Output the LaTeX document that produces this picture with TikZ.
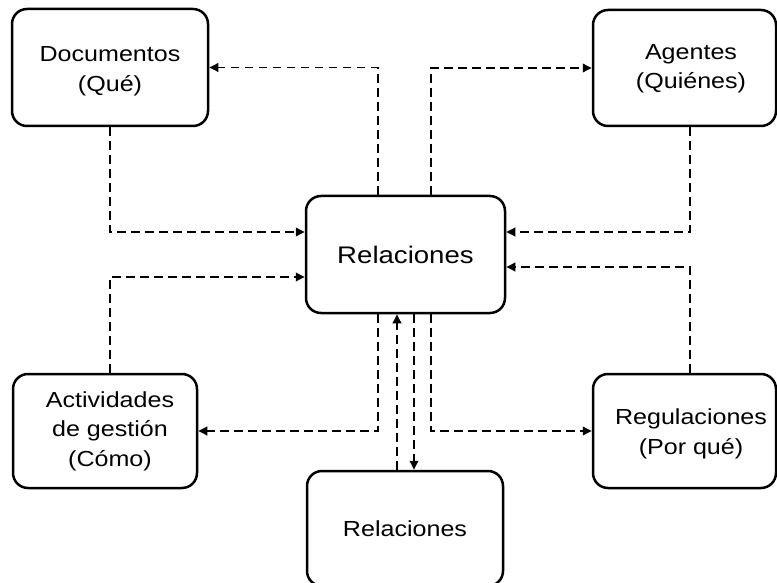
\documentclass[tikz,border=0pt]{standalone}
\usepackage{fontspec}
\setmainfont{Liberation Sans}[FakeStretch=1.15]
\usetikzlibrary{arrows.meta}
\begin{document}
\begin{tikzpicture}[x=1pt,y=-1pt,
  box/.style={draw=black, line width=2.5pt, rounded corners=15pt, inner sep=0pt, fill=white},
  lbl/.style={align=center, font=\fontsize{21.8}{29.5}\selectfont},
  conn/.style={line width=1.8pt, dash pattern=on 8.5pt off 5.5pt, -{Triangle[length=9pt,width=8.5pt]}}]
\useasboundingbox (0,0) rectangle (777,583);
\fill[white] (0,0) rectangle (777,583);
% boxes
\node[box, minimum width=196pt, minimum height=117pt, label={[lbl, yshift=-4pt]center:{Documentos\\(Qué)}}] (doc) at (110,67.5) {};
\node[box, minimum width=183pt, minimum height=116pt, label={[lbl, xshift=6.5pt, yshift=-1pt]center:{Agentes\\(Quiénes)}}] (age) at (684.5,68) {};
\node[box, minimum width=184pt, minimum height=114pt, label={[lbl, xshift=5pt]center:{Actividades\\de gestión\\(Cómo)}}] (act) at (105,431) {};
\node[box, minimum width=183pt, minimum height=114pt, label={[lbl, xshift=6.5pt, yshift=-3pt]center:{Regulaciones\\(Por qué)}}] (reg) at (684.5,431) {};
\node[box, minimum width=199pt, minimum height=117pt, font=\fontsize{24}{28}\selectfont] (rel) at (405.5,254.5) {Relaciones};
\node[box, minimum width=196pt, minimum height=115pt, font=\fontsize{21.8}{28}\selectfont] (bot) at (405,528.5) {Relaciones};
% helper x positions
\coordinate (xL) at (110,0);
\coordinate (xR) at (690,0);
\coordinate (xa) at (378,0);
\coordinate (xb) at (397,0);
\coordinate (xc) at (414,0);
\coordinate (xd) at (431,0);
% connectors
\draw[conn] (rel.north -| xa) |- (doc);
\draw[conn] (rel.north -| xd) |- (age);
\draw[conn] (doc.south -| xL) |- ([yshift=22.5pt]rel.west);
\draw[conn] (act.north -| xL) |- ([yshift=-22.5pt]rel.west);
\draw[conn] (age.south -| xR) |- ([yshift=22.5pt]rel.east);
\draw[conn] (reg.north -| xR) |- ([yshift=-12.5pt]rel.east);
\draw[conn] (rel.south -| xa) |- (act);
\draw[conn] (rel.south -| xd) |- (reg);
\draw[conn] (bot.north -| xb) -- (rel.south -| xb);
\draw[conn] (rel.south -| xc) -- (bot.north -| xc);
\end{tikzpicture}
\end{document}
